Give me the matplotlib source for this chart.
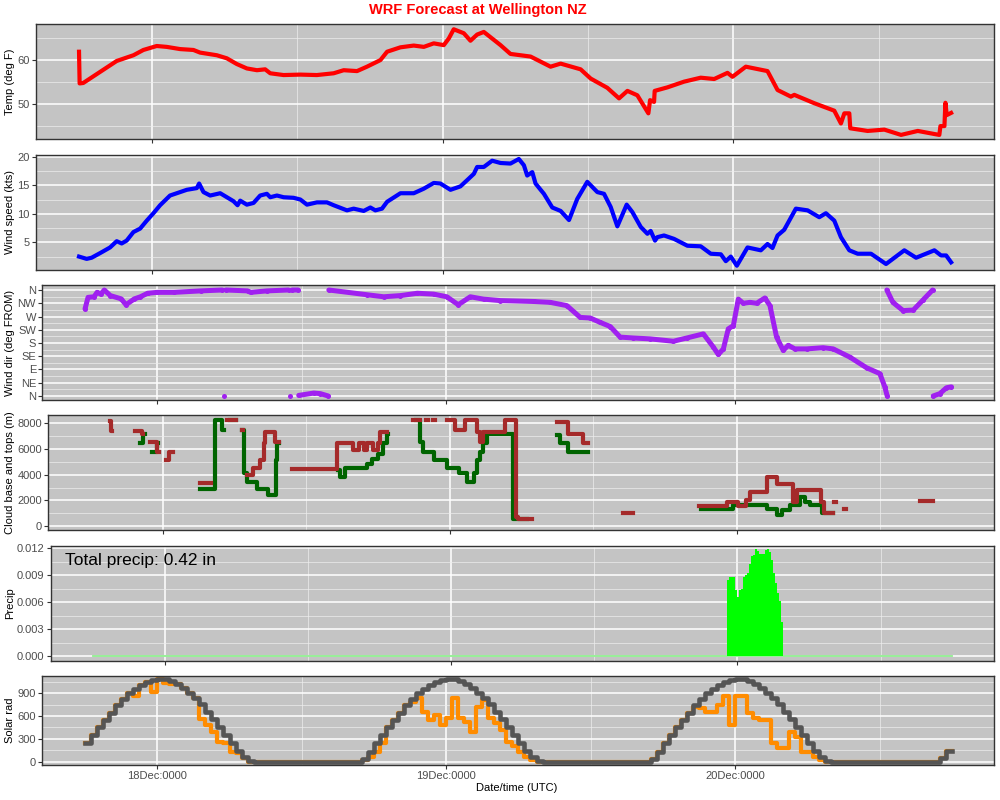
import numpy as np
import matplotlib
matplotlib.use("Agg")
import matplotlib.pyplot as plt

plt.rcParams["font.family"] = ["Liberation Sans", "DejaVu Sans"]

# hours relative to 18 Dec 00:00 UTC
start_hour, end_hour = -6.0, 66.0
day_ticks = [0, 24, 48]
day_labels = ["18Dec:0000", "19Dec:0000", "20Dec:0000"]
half_day_ticks = [12, 36, 60]

# temperature (deg F)
temp_hours = [-6.0, -5.95, -5.65, -4.27, -2.89, -1.51, -0.69, 0.41, 1.24, 2.34, 3.44, 3.99,
              5.37, 6.20, 7.02, 7.85, 8.68, 9.36, 9.78, 10.88, 12.26, 13.63, 15.01, 15.84,
              16.94, 17.76, 18.87, 19.42, 20.52, 21.62, 22.45, 23.27, 24.10, 24.51, 24.92,
              25.75, 26.30, 26.85, 27.40, 28.09, 28.78, 29.60, 31.26, 32.91, 33.74, 35.39,
              36.22, 37.59, 38.56, 39.25, 40.07, 40.98, 41.12, 41.45, 41.50, 42.55, 43.93,
              45.30, 46.41, 47.51, 47.92, 49.02, 50.81, 51.64, 52.74, 53.02, 54.67, 56.32,
              56.87, 57.15, 57.56, 57.64, 59.07, 60.45, 61.83, 63.21, 64.58, 64.99, 65.08,
              65.41, 65.49, 65.60, 65.96]
temp_f = [61.9, 54.7, 54.8, 57.3, 59.8, 61.1, 62.3, 63.2, 63.0, 62.5, 62.3, 61.7,
          61.1, 60.4, 59.1, 58.1, 57.7, 57.9, 57.0, 56.6, 56.7, 56.6, 57.0, 57.7,
          57.5, 58.5, 60.0, 61.9, 62.9, 63.3, 63.0, 63.8, 63.4, 64.9, 67.0,
          66.1, 64.4, 65.8, 66.4, 64.9, 63.4, 61.4, 60.8, 58.5, 59.2, 57.9,
          55.8, 53.7, 51.3, 53.0, 52.0, 47.9, 50.9, 50.5, 53.0, 53.8, 55.1,
          56.0, 55.7, 57.1, 56.2, 58.5, 57.5, 53.2, 51.7, 52.1, 50.2, 48.5,
          45.6, 47.9, 47.9, 44.5, 43.9, 44.2, 43.0, 43.9, 43.2, 43.0, 45.0,
          45.0, 50.3, 47.5, 48.0]

# wind speed (kts)
wspd_hours = [-6.0, -5.37, -4.96, -4.27, -3.44, -2.89, -2.48, -2.07, -1.51, -0.96, -0.41, 0.14,
              0.69, 1.51, 2.34, 2.89, 3.72, 3.91, 4.27, 4.82, 5.65, 6.20, 6.75, 7.08, 7.30,
              7.85, 8.40, 8.95, 9.50, 9.78, 10.33, 10.88, 11.70, 12.26, 12.81, 13.63, 14.46,
              15.01, 16.11, 16.66, 17.49, 18.04, 18.45, 19.00, 19.42, 20.52, 21.62, 22.45,
              23.27, 23.82, 24.65, 25.47, 26.03, 26.58, 26.85, 27.40, 28.09, 28.78, 29.60,
              30.29, 30.71, 30.98, 31.40, 31.67, 32.36, 33.05, 33.74, 34.43, 35.11, 35.94,
              36.77, 37.32, 37.87, 38.42, 39.19, 39.66, 40.35, 40.90, 41.17, 41.53, 41.72,
              42.27, 43.10, 44.20, 45.30, 46.13, 46.96, 47.37, 47.78, 48.28, 49.16, 50.26,
              50.81, 51.22, 51.64, 52.19, 53.15, 54.12, 55.08, 55.63, 56.32, 56.87, 57.56,
              58.25, 59.35, 60.59, 62.10, 63.07, 64.58, 65.13, 65.55, 65.96]
wspd_kts = [2.5, 2.1, 2.3, 3.1, 4.1, 5.2, 4.8, 5.3, 6.8, 7.4, 8.8, 10.1,
            11.5, 13.2, 13.8, 14.2, 14.5, 15.3, 13.8, 13.2, 13.6, 12.9, 12.2, 11.5, 12.3,
            11.6, 11.9, 13.2, 13.5, 12.9, 13.2, 12.9, 12.8, 12.5, 11.6, 12.0, 12.0,
            11.5, 10.6, 10.9, 10.5, 11.1, 10.6, 10.9, 12.1, 13.6, 13.6, 14.4,
            15.4, 15.3, 14.2, 14.8, 15.9, 17.0, 18.2, 18.2, 19.3, 18.9, 18.8,
            19.6, 18.5, 16.7, 17.3, 15.3, 13.5, 11.1, 10.5, 8.9, 12.6, 15.6,
            13.8, 13.5, 11.2, 7.8, 11.6, 10.3, 7.7, 6.5, 7.0, 5.3, 5.9,
            6.2, 5.6, 4.4, 4.3, 3.0, 2.9, 1.7, 2.5, 0.9, 4.1, 3.6,
            4.7, 4.0, 6.2, 7.2, 10.9, 10.6, 9.4, 10.1, 8.8, 5.9, 3.6,
            3.0, 3.0, 1.2, 3.6, 2.3, 3.6, 2.7, 2.7, 1.5]

# wind direction (deg FROM), nan = wrap-around break
nan = np.nan
wdir_hours = [-6.0, -5.75, -5.25, -5.0, -4.7, -4.4, -3.9, -3.0, -2.6, -1.9, -1.4, -0.8, 0.0,
              1.4, 3.6, 5.4, nan, 5.55, nan, 5.7, 7.5, 7.75, 9.1, 10.9, nan, 11.05, nan,
              11.2, 11.7, nan, 11.75, 13.0, 13.55, 14.2, nan,
              14.25, 17.4, 18.8, 20.2, 21.6, 22.95, 24.05, 25.0, 26.0, 27.1, 28.5, 31.26,
              32.64, 34.02, 35.13, 35.96, 36.79, 37.62, 38.45, 39.55, 40.93, 42.87, 43.98,
              45.36, 46.19, 46.6, 47.02, 47.43, 47.85, 48.26, 48.68, 49.23, 49.78, 50.47,
              50.89, 51.44, 51.99, 52.41, 52.96, 53.93, 55.31, 56.14, 57.53, 58.91, 60.02,
              60.43, 60.63, nan, 60.6, 61.1, 61.95, 62.8, 63.6, 64.4, nan,
              64.45, 65.0, 65.55, 65.96]
wdir_deg = [296, 335, 337, 352, 346, 360, 341, 330, 310, 330, 337, 349, 352,
            352, 357, 360, nan, 0, nan, 360, 357, 352, 357, 360, nan, 0, nan,
            360, 360, nan, 2, 10, 8, 0, nan,
            360, 344, 337, 341, 349, 346, 337, 310, 337, 329, 324, 321,
            318, 307, 267, 265, 250, 236, 200, 197, 194, 186, 197,
            211, 166, 141, 160, 228, 239, 329, 315, 318, 315, 333,
            307, 200, 155, 172, 160, 160, 164, 160, 132, 96, 76,
            31, 0, nan, 360, 318, 290, 292, 326, 360, nan,
            0, 8, 28, 31]

# cloud tops and bases (m), stepped, nan ends a run
tops_hours = [-4.4, -4.3, -4.2, -2.3, -1.75, -1.6, -1.05, -0.45, -0.3, 0.25, 0.55, 0.85,
              3.15, 4.05, 5.4, 6.1, 6.6, 6.75,
              7.05, 7.6, 8.15, 8.45, 8.6, 9.4, 9.7,
              10.8, 14.55, 15.95, 16.4, 16.8, 17.1, 17.6, 18.05, 18.2, 18.75,
              20.95, 21.55, 22.0, 22.2, 22.6, 22.8,
              23.75, 24.45, 25.3, 26.25, 26.55, 26.8, 28.6, 29.55, 29.75, 30.85,
              32.95, 33.9, 35.15, 35.6, 38.5, 39.35,
              44.8, 47.15, 48.1, 48.8, 49.1, 50.5, 51.35, 52.7, 53.0, 55.0, 55.25, 56.05,
              56.15, 56.3, 57.0, 57.15, 63.3, 64.4]
tops_m = [8200, 7400, nan, 7400, 7200, nan, 6550, 5800, nan, 5150, 5800, nan,
          3350, nan, 8250, nan, 7450, nan,
          3950, 4500, 5150, 6450, 7350, 6550, nan,
          4480, 6450, 5900, 6450, 5900, 6450, 5900, 6450, 7350, nan,
          8250, nan, 8250, nan, 8250, nan,
          8250, 7450, 8250, 7350, 6550, 7350, 8250, 700, 550, nan,
          8100, 7200, 6450, nan, 1000, nan,
          1550, 1900, 1550, 2050, 2650, 3800, 3250, 1900, 2800, 1900, 1000, nan,
          1900, nan, 1300, nan, 1950, nan]
base_hours = [-1.9, -1.6, -1.5, -0.9, -0.45, -0.35,
              3.15, 4.4, 4.95, 5.1, 5.65, 6.15,
              6.6, 6.8, 7.05, 7.9, 8.85, 9.45, 9.55, 9.7,
              14.7, 14.85, 15.25, 17.1, 17.5, 18.05, 18.45, 18.75, 18.85,
              21.2, 21.5, 21.8, 22.65, 23.75, 24.75, 25.45, 26.0, 26.25, 26.55, 26.8, 27.1,
              29.3, 30.45,
              32.95, 33.2, 33.9, 35.6,
              45.05, 47.7, 50.5, 51.35, 51.75, 52.45, 53.3, 53.7, 54.1, 55.1, 56.05]
base_m = [6450, 7200, nan, 5800, 6500, nan,
          2900, 8250, 7500, nan, 8250, nan,
          7450, 4100, 3450, 2850, 2400, 5150, 6450, nan,
          4350, 3850, 4500, 4850, 5250, 5650, 6450, 7200, nan,
          8250, 6550, 5800, 5150, 4500, 4100, 3450, 4100, 5150, 5800, 6450, 7200,
          570, nan,
          7100, 6450, 5800, nan,
          1300, 1600, 1300, 850, 1250, 1600, 2250, 1900, 1600, 1000, nan]

# precipitation (in), 10-minute bars
precip_start = 47.15
precip_in = [0.0085, 0.0088, 0.0088, 0.0088, 0.0074, 0.0066, 0.0074, 0.0075, 0.0088, 0.0090,
             0.0092, 0.0103, 0.0111, 0.0113, 0.0119, 0.0117, 0.0114, 0.0114, 0.0114, 0.0118,
             0.0119, 0.0116, 0.0107, 0.0092, 0.0081, 0.0070, 0.0061, 0.0038]
total_precip_text = "Total precip: 0.42 in"

# solar radiation, half-hourly from start_hour
clear_sky = [241, 351, 452, 549, 645, 746, 825, 900, 961, 1014, 1049, 1076,
             1089, 1084, 1058, 1023, 970, 909, 834, 755, 658, 558, 452, 351, 250, 145, 57, 9,
             0, 0, 0, 0, 0, 0, 0, 0, 0, 0, 0, 0, 0, 0, 0, 0, 0, 0,
             40, 120, 241, 351, 452, 549, 645, 746, 825, 900, 961, 1014, 1049, 1076,
             1089, 1084, 1058, 1023, 970, 909, 834, 755, 658, 558, 452, 351, 250, 145, 57, 9,
             0, 0, 0, 0, 0, 0, 0, 0, 0, 0, 0, 0, 0, 0, 0, 0, 0, 0,
             40, 120, 241, 351, 452, 549, 645, 746, 825, 900, 961, 1014, 1049, 1076,
             1089, 1084, 1058, 1023, 970, 909, 834, 755, 658, 558, 452, 351, 250, 145, 57, 9,
             0, 0, 0, 0, 0, 0, 0, 0, 0, 0, 0, 0, 0, 0, 0, 0, 0, 0,
             53, 145]
actual_solar = [241, 351, 452, 549, 645, 746, 825, 900, 870, 1014, 1049, 920,
                1089, 1040, 1020, 1023, 970, 909, 834, 562, 480, 395, 263, 241, 132, 110, 44, 0,
                0, 0, 0, 0, 0, 0, 0, 0, 0, 0, 0, 0, 0, 0, 0, 0, 0, 0,
                20, 66, 132, 241, 452, 549, 645, 746, 790, 834, 660, 549, 615, 483,
                571, 834, 571, 527, 395, 724, 812, 580, 514, 417, 263, 200, 132, 60, 20, 0,
                0, 0, 0, 0, 0, 0, 0, 0, 0, 0, 0, 0, 0, 0, 0, 0, 0, 0,
                40, 120, 241, 351, 452, 549, 645, 724, 700, 658, 658, 746, 869, 483,
                869, 869, 637, 571, 549, 549, 241, 176, 176, 395, 329, 132, 132, 66, 22, 0,
                0, 0, 0, 0, 0, 0, 0, 0, 0, 0, 0, 0, 0, 0, 0, 0, 0, 0,
                53, 145]

BG = "#C4C4C4"
XLIM = (-9.55, 69.5)
W, H = 1000, 800


def rect(left, top, right, bottom):
    return [left / W, 1 - bottom / H, (right - left) / W, (bottom - top) / H]


def style(ax, ylim, major, minor, labels=None, show_x=False):
    ax.set_facecolor(BG)
    ax.set_xlim(XLIM)
    ax.set_ylim(ylim)
    ax.set_xticks(day_ticks)
    ax.set_xticks(half_day_ticks, minor=True)
    ax.set_xticklabels(day_labels if show_x else [])
    ax.set_yticks(major)
    if labels is not None:
        ax.set_yticklabels(labels)
    ax.set_yticks(minor, minor=True)
    ax.grid(which="major", color="white", lw=1.1)
    ax.grid(which="minor", color="#EDEDED", lw=0.5)
    ax.set_axisbelow(True)
    ax.tick_params(which="minor", length=0)
    ax.tick_params(which="major", length=3, width=0.8, color="#333333",
                   labelsize=8, labelcolor="#4D4D4D", pad=1.5)
    for s in ax.spines.values():
        s.set_color("#333333")
        s.set_linewidth(1.0)


def ylabel(ax, text):
    b = ax.get_position()
    fig.text(0.010, b.y0 + b.height / 2, text, rotation=90, ha="center", va="center", fontsize=8)


fig = plt.figure(figsize=(10, 8), dpi=100)

# temperature
ax = fig.add_axes(rect(36, 24, 994, 139.3))
ax.plot(temp_hours, temp_f, color="red", lw=3, solid_joinstyle="round")
style(ax, (42.0, 68.2), [50, 60], [45, 55, 65])
ylabel(ax, "Temp (deg F)")

# wind speed
ax = fig.add_axes(rect(36, 155, 994, 270))
ax.plot(wspd_hours, wspd_kts, color="blue", lw=3, solid_joinstyle="round")
style(ax, (0.15, 20.3), [5, 10, 15, 20], [2.5, 7.5, 12.5, 17.5])
ylabel(ax, "Wind speed (kts)")

# wind direction
ax = fig.add_axes(rect(42.3, 285, 994, 400))
ax.plot(wdir_hours, wdir_deg, color="#A020F0", lw=3.6, marker="o", ms=3.6, mew=0,
        solid_capstyle="round", solid_joinstyle="round")
style(ax, (-13.6, 377), list(range(0, 361, 45)), list(np.arange(22.5, 360, 45)),
      ["N", "NE", "E", "SE", "S", "SW", "W", "NW", "N"])
ylabel(ax, "Wind dir (deg FROM)")

# cloud
ax = fig.add_axes(rect(48.3, 415, 994, 530))
ax.plot(base_hours, base_m, drawstyle="steps-post", color="#006400", lw=3)
ax.plot(tops_hours, tops_m, drawstyle="steps-post", color="#A52A2A", lw=3)
style(ax, (-310, 8650), [0, 2000, 4000, 6000, 8000], [1000, 3000, 5000, 7000])
ylabel(ax, "Cloud base and tops (m)")

# precip
ax = fig.add_axes(rect(50.7, 545.7, 994, 660.7))
p_hours = precip_start + np.arange(len(precip_in)) / 6
ax.plot([start_hour, end_hour], [0, 0], color="#90EE90", lw=1.3, zorder=2)
ax.bar(p_hours, precip_in, width=1 / 6, align="edge", color="#00FF00", lw=0, zorder=3)
style(ax, (-0.00052, 0.01229), [0, 0.003, 0.006, 0.009, 0.012],
      [0.0015, 0.0045, 0.0075, 0.0105], ["0.000", "0.003", "0.006", "0.009", "0.012"])
ax.text(0.0152, 0.867, total_precip_text, transform=ax.transAxes, fontsize=12.5,
        ha="left", va="center", color="black")
ylabel(ax, "Precip")

# solar
ax = fig.add_axes(rect(42.3, 675.7, 994, 765))
s_hours = start_hour + np.arange(len(clear_sky)) * 0.5
s_hours = np.append(s_hours, s_hours[-1] + 0.5)
ax.plot(s_hours, np.append(actual_solar, actual_solar[-1]), drawstyle="steps-post",
        color="#FF8C00", lw=3)
ax.plot(s_hours, np.append(clear_sky, clear_sky[-1]), drawstyle="steps-post",
        color="#555555", lw=3.3)
style(ax, (-45, 1132), [0, 300, 600, 900], [150, 450, 750, 1050], show_x=True)
ylabel(ax, "Solar rad")

fig.text(478 / W, 1 - 10 / H, "WRF Forecast at Wellington NZ", color="red", fontsize=10.5,
         fontweight="bold", ha="center", va="center")
fig.text(517 / W, 1 - 788 / H, "Date/time (UTC)", fontsize=8, ha="center", va="center")

fig.savefig("out.png", dpi=100)
